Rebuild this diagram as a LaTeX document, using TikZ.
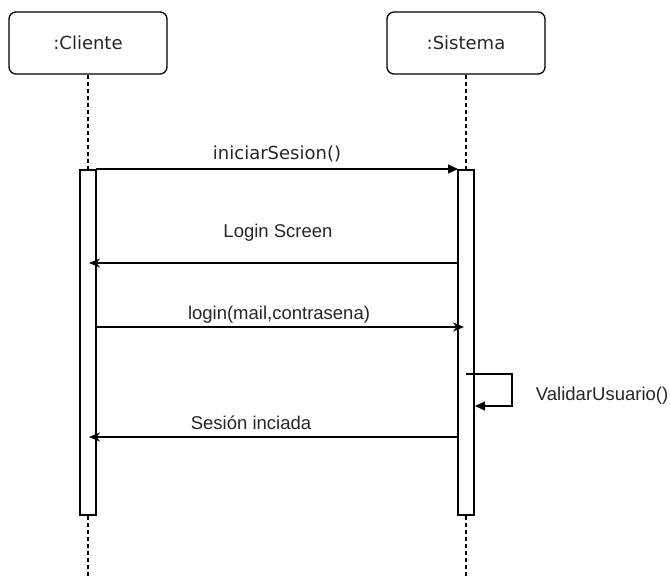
\documentclass[tikz,border=0pt]{standalone}
\usepackage{fontspec}
\setmainfont{Liberation Sans}
\newfontfamily\dvfont{DejaVu Sans}
\usetikzlibrary{arrows.meta}

\tikzset{
	actor/.style={draw, rounded corners=7pt, minimum width=158pt, minimum height=62pt, text=black!85, font=\dvfont\fontsize{18}{21}\selectfont},
	actbar/.style={draw, fill=white, minimum width=16pt, minimum height=345pt, inner sep=0pt},
	life/.style={dash pattern=on 4pt off 3pt, line width=1.2pt},
	msg/.style={text=black!85, font=\fontsize{18.5}{21}\selectfont},
	call/.style={-{Triangle[length=10pt, width=9pt]}},
	ret/.style={-{Stealth[length=11pt, width=9pt, inset=3.5pt]}}
}

\begin{document}
\begin{tikzpicture}[x=1pt, y=-1pt, line width=1.3pt]
	\useasboundingbox (0,0) rectangle (670,576);
	\node[actor] (cli) at (88,43) {:Cliente};
	\node[actor] (sis) at (466,43) {:Sistema};
	\coordinate (cliend) at (88,576);
	\coordinate (sisend) at (466,576);
	\draw[life] (cli) -- (cliend);
	\draw[life] (sis) -- (sisend);
	\node[actbar] (clibar) at (88,342.5) {};
	\node[actbar] (sisbar) at (466,342.5) {};

	\coordinate (c1) at (96,169);   \coordinate (s1) at (458,169);
	\coordinate (c2) at (89,263);   \coordinate (s2) at (458,263);
	\coordinate (c3) at (96,327);   \coordinate (s3) at (464,327);
	\coordinate (c4) at (89,437);   \coordinate (s4) at (458,437);
	\coordinate (v1) at (466,374);  \coordinate (v2) at (475,406);

	\draw[call] (c1) -- (s1);
	\draw[ret] (s2) -- (c2);
	\draw[ret] (c3) -- (s3);
	\draw[call] (v1) -- ++(46,0) |- (v2);
	\draw[ret] (s4) -- (c4);

	\node[msg, font=\dvfont\fontsize{18}{21}\selectfont] (m1) at (277,154) {iniciarSesion()};
	\node[msg] (m2) at (278,233) {Login Screen};
	\node[msg] (m3) at (279,315) {login(mail,contrasena)};
	\node[msg, anchor=west] (m4) at (532,396) {ValidarUsuario()};
	\node[msg] (m5) at (251,423) {Sesión inciada};
\end{tikzpicture}
\end{document}
